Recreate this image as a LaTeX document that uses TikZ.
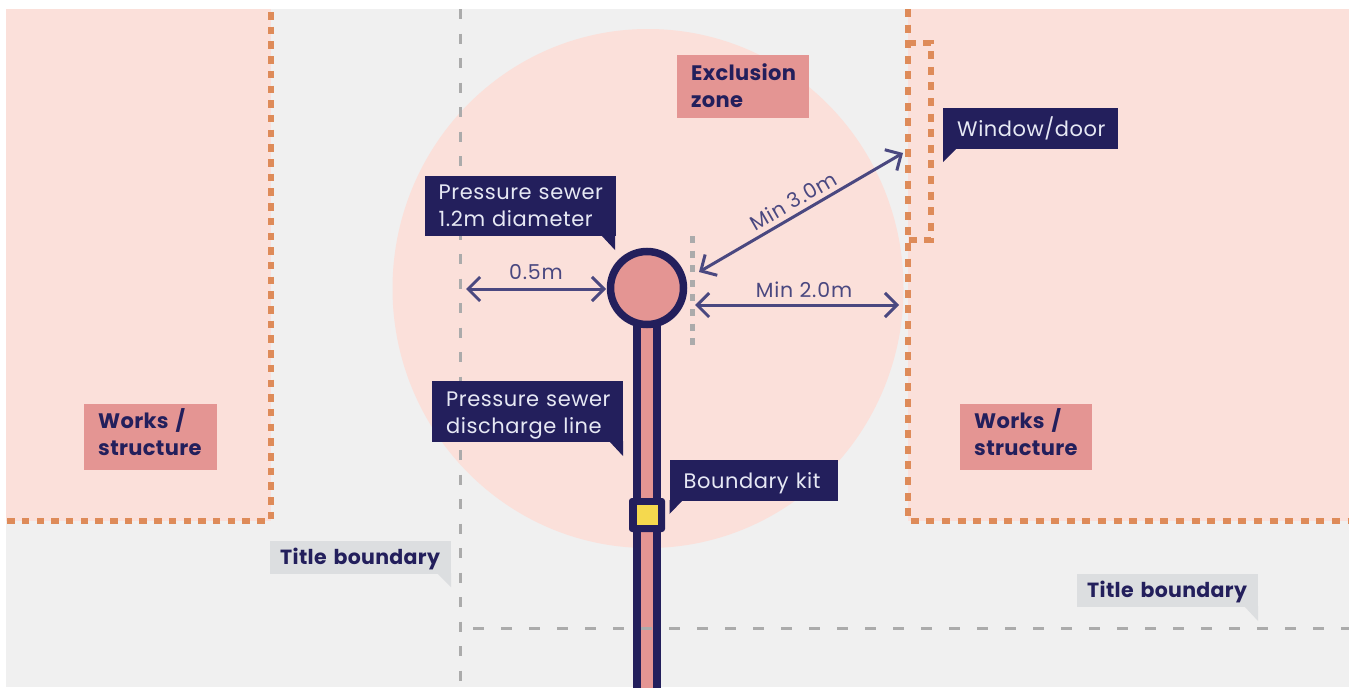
\documentclass[tikz,border=0pt]{standalone}
\usepackage{fontspec}
\setmainfont{Poppins}
\newfontfamily\regfont[LetterSpace=2.6]{Poppins}
\newfontfamily\boldfont[LetterSpace=1.6]{Poppins Bold}
\newfontfamily\dimfont[LetterSpace=4]{Poppins}
\newcommand{\pushdown}[1]{\rule{0pt}{#1pt}}
\newcommand{\pushup}[1]{\rule[-#1pt]{0pt}{#1pt}}
\usetikzlibrary{arrows.meta}
\definecolor{bgc}{HTML}{F0F0F0}
\definecolor{zonec}{HTML}{FBE0DA}
\definecolor{navyc}{HTML}{231F5C}
\definecolor{rosec}{HTML}{E49593}
\definecolor{orangec}{HTML}{DE8B59}
\definecolor{dashc}{HTML}{ABABAB}
\definecolor{arrowc}{HTML}{4A4880}
\definecolor{titlec}{HTML}{DCDEE0}
\definecolor{yellowc}{HTML}{F5D94E}
\definecolor{calltext}{HTML}{E6E8F4}
\tikzset{
  navybox/.style={fill=navyc,text=calltext,align=left,inner xsep=14pt,inner ysep=0pt,anchor=north west,font=\fontsize{21}{27}\selectfont\regfont},
  rosebox/.style={fill=rosec,text=navyc,align=left,inner xsep=14pt,inner ysep=0pt,anchor=north west,font=\fontsize{21}{27}\selectfont\boldfont},
  titlebox/.style={fill=titlec,text=navyc,align=left,inner xsep=10pt,inner ysep=0pt,anchor=north west,font=\fontsize{20.5}{27}\selectfont\boldfont},
  dimline/.style={draw=arrowc,line width=3pt,{Straight Barb[length=12pt,width=24pt,line width=3pt]}-{Straight Barb[length=12pt,width=24pt,line width=3pt]}},
  dimlabel/.style={text=arrowc,font=\fontsize{20.5}{23}\selectfont\dimfont,inner sep=0pt},
  boundary/.style={draw=dashc,line width=2.5pt,dash pattern=on 10pt off 14.5pt},
  boundaryh/.style={draw=dashc,line width=2.5pt,dash pattern=on 11pt off 17pt},
  dotline/.style={draw=orangec,line width=6pt,dash pattern=on 8pt off 7.6pt},
  dotleft/.style={draw=orangec,line width=6pt,dash pattern=on 7.5pt off 7.2pt},
}
\begin{document}
\begin{tikzpicture}[x=1pt,y=-1pt]
\useasboundingbox (0,0) rectangle (1353,688);
\fill[white] (0,0) rectangle (1353,688);
\fill[bgc] (6,9) rectangle (1349,687);
\fill[zonec] (648,288.5) ellipse [x radius=255.5pt,y radius=259.5pt];
\fill[zonec] (6,9) rectangle (270.5,521);
\fill[zonec] (907.5,9) rectangle (1349,521);
% structure edges
\draw[dotleft] (270.5,12) -- (270.5,520.5) -- (6,520.5);
\draw[dotline] (907.5,9) -- (907.5,520.5) -- (1349,520.5);
\draw[dotline] (907.5,43) -- (930.5,43) -- (930.5,240) -- (907.5,240);
% title boundaries
\coordinate (bvtop) at (460.5,9);
\coordinate (bvbot) at (460.5,682);
\coordinate (bhl) at (473,628.5);
\coordinate (bhr) at (1349,628.5);
\draw[boundary] (bvtop) -- (bvbot);
% pipe
\fill[navyc] (633,326) rectangle (661,688);
\fill[rosec] (641,326) rectangle (653,688);
\draw[boundaryh] (bhl) -- (bhr);
% pit
\node[circle,draw=navyc,fill=rosec,line width=7.5pt,minimum size=73pt,inner sep=0pt] (pit) at (647,288) {};
\draw[draw=dashc,line width=5pt,dash pattern=on 7pt off 7.6pt] (692.5,236) -- (692.5,345);
% kit
\node[fill=navyc,rounded corners=3pt,minimum width=36pt,minimum height=34pt,inner sep=0pt] (kit) at (647,515) {};
\node[fill=yellowc,minimum width=21pt,minimum height=20pt,inner sep=0pt] (kitcore) at (647.5,515) {};
% dimensions
\coordinate (a1) at (466,289); \coordinate (a2) at (606,289);
\coordinate (b1) at (695,305); \coordinate (b2) at (899,305);
\coordinate (c1) at (699,272); \coordinate (c2) at (903,153);
\draw[dimline] (a1) -- (a2);
\draw[dimline] (b1) -- (b2);
\draw[dimline] (c1) -- (c2);
\node[dimlabel] (l05) at (536,272) {0.5m};
\node[dimlabel] (l20) at (804,290) {Min 2.0m};
\node[dimlabel,rotate=30] (l30) at (793,201) {Min 3.0m};
% callouts
\node[navybox,text width=163pt,minimum height=60pt] (ps) at (424.5,176) {\mbox{Pressure sewer}\\\mbox{1.2m diameter}};
\fill[navyc] (601,235) -- (615,250) -- (615,235) -- cycle;
\node[navybox,text width=163pt,minimum height=61pt] (dl) at (432,381) {\pushdown{22}\mbox{Pressure sewer}\\\mbox{discharge line}};
\fill[navyc] (609,441) -- (623,456) -- (623,441) -- cycle;
\node[navybox,text width=140pt,minimum height=41pt] (bk) at (669.5,460) {\pushdown{22}\mbox{Boundary kit}};
\fill[navyc] (669.5,500) -- (669.5,514) -- (683,500) -- cycle;
\node[navybox,text width=147pt,minimum height=41pt] (wd) at (943,108) {\mbox{Window/door}};
\fill[navyc] (943,148) -- (943,162) -- (957,148) -- cycle;
\node[rosebox,text width=104pt,minimum height=63pt] (ez) at (677,55) {Exclusion\\zone\pushup{2}};
\node[rosebox,text width=105pt,minimum height=66pt] (wl) at (84,404) {Works /\\\mbox{structure}\pushup{10}};
\node[rosebox,text width=104pt,minimum height=66pt] (wr) at (960,404) {Works /\\\mbox{structure}\pushup{10}};
\node[titlebox,text width=161pt,minimum height=33pt] (tl) at (270,541) {\pushdown{19}\mbox{Title boundary}};
\fill[titlec] (437,573) -- (451,587) -- (451,573) -- cycle;
\node[titlebox,text width=161pt,minimum height=33pt] (tr) at (1077,574) {\pushdown{19}\mbox{Title boundary}};
\fill[titlec] (1244,606) -- (1258,621) -- (1258,606) -- cycle;
\end{tikzpicture}
\end{document}
